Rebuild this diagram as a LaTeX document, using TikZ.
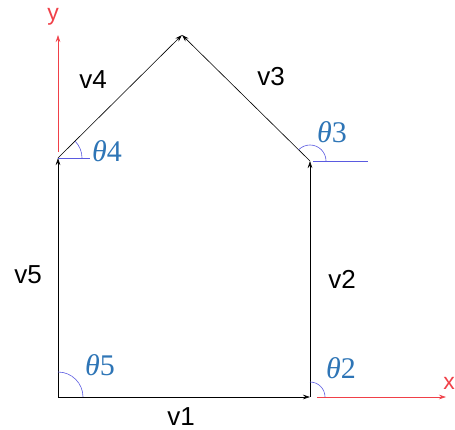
\documentclass[tikz,border=0pt]{standalone}
\usepackage{fontspec}
\setmainfont{Liberation Sans}
\newfontfamily\thetafont{Liberation Serif}
\usetikzlibrary{arrows.meta}
\definecolor{axisred}{HTML}{F04048}
\definecolor{arcblue}{HTML}{5A5AE0}
\definecolor{thetablue}{HTML}{2E75B6}
\begin{document}
\begin{tikzpicture}[x=1pt, y=-1pt,
        vec/.style={-{Stealth[length=7pt, width=4.5pt]}, semithick},
        axis/.style={-{Stealth[length=7pt, width=4.5pt]}, axisred, semithick},
        ang/.style={arcblue, semithick},
        vlabel/.style={inner sep=0pt, font=\fontsize{26}{30}\selectfont},
        tlabel/.style={inner sep=0pt, thetablue, font=\thetafont\fontsize{30}{34}\selectfont},
        axlabel/.style={inner sep=0pt, axisred, font=\fontsize{23}{26}\selectfont}
    ]
    \useasboundingbox (0,0) rectangle (455,430);

    % --- house corners ---
    \coordinate (A) at (58,397);
    \coordinate (B) at (310,397);
    \coordinate (C) at (310,161);
    \coordinate (D) at (182,35);
    \coordinate (E) at (58,158);

    % --- axes ---
    \coordinate (yo) at (58,152);
    \coordinate (yend) at (58,35);
    \coordinate (xo) at (317,397);
    \coordinate (xend) at (446,397);
    \draw[axis] (yo) -- (yend);
    \draw[axis] (xo) -- (xend);
    \node[axlabel] (ylab) at (53,17) {y};
    \node[axlabel] (xlab) at (449,383) {x};

    % --- vectors ---
    \draw[vec] (A) -- (B);
    \draw[vec] (B) -- (C);
    \draw[vec] (C) -- (D);
    \draw[vec] (E) -- (D);
    \draw[vec] (A) -- (E);
    \node[vlabel] (v1) at (181,417) {v1};
    \node[vlabel] (v2) at (342,279) {v2};
    \node[vlabel] (v3) at (271,77) {v3};
    \node[vlabel] (v4) at (93,80) {v4};
    \node[vlabel] (v5) at (28,275) {v5};

    % --- angles ---
    \draw[ang] (A) ++(25pt,0) arc[start angle=0, end angle=90, radius=25pt];
    \draw[ang] (B) ++(15pt,0) arc[start angle=0, end angle=90, radius=15pt];
    \draw[ang] (E) -- ++(32pt,0);
    \draw[ang] (E) ++(24pt,0) arc[start angle=0, end angle=44, radius=24pt];
    \draw[ang] (C) ++(3pt,0) -- ++(55pt,0);
    \draw[ang] (C) ++(16pt,0) arc[start angle=0, end angle=135, radius=16pt];
    \node[tlabel] (t2) at (341,368) {\textit{θ}2};
    \node[tlabel] (t3) at (332,132) {\textit{θ}3};
    \node[tlabel] (t4) at (107,151) {\textit{θ}4};
    \node[tlabel] (t5) at (100,365) {\textit{θ}5};
\end{tikzpicture}
\end{document}
